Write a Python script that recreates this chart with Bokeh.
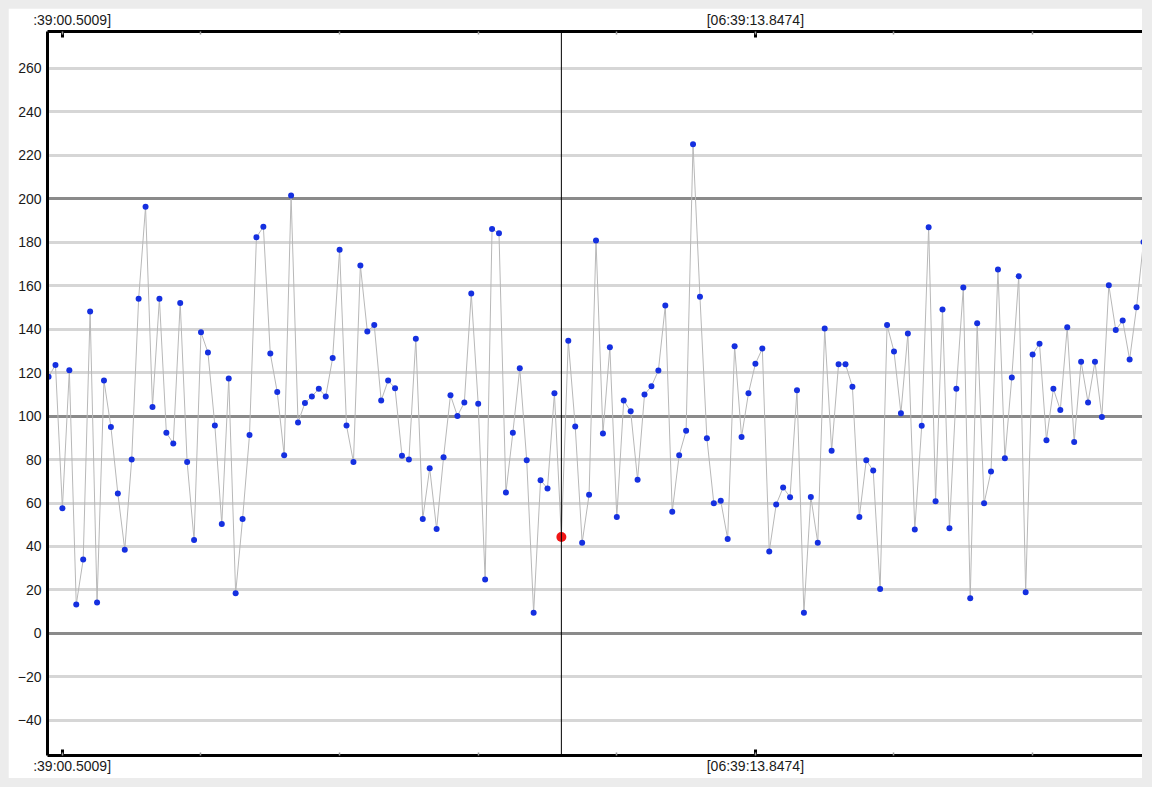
from bokeh.plotting import figure
from bokeh.models import Range1d, FixedTicker, Grid, LinearAxis, Span, ColumnDataSource
from bokeh.embed import file_html
from bokeh.resources import INLINE

# ---- data -------------------------------------------------------------
values = [
    118, 123.5, 57.6, 121, 13.3, 34, 148, 14.3, 116.3, 95,
    64.4, 38.5, 80, 153.9, 196.2, 104.2, 153.9, 92.3, 87.4, 152,
    78.8, 43, 138.5, 129.2, 95.6, 50.3, 117.2, 18.5, 52.7, 91.3,
    182.2, 187, 128.7, 111, 82, 201.4, 97, 106, 109, 112.5,
    109, 126.7, 176.4, 95.6, 78.8, 169.2, 138.9, 141.8, 107.1, 116.3,
    112.8, 81.7, 80, 135.5, 52.7, 76, 48, 81, 109.6, 100,
    106.2, 156.3, 105.6, 24.8, 186, 184, 64.8, 92.3, 122, 79.7,
    9.5, 70.5, 66.7, 110.5, 44.4, 134.6, 95.2, 41.7, 63.8, 180.7,
    92, 131.6, 53.6, 107.1, 102.2, 70.7, 109.9, 113.7, 120.9, 150.8,
    56, 82, 93.2, 225, 154.8, 89.8, 59.9, 61, 43.5, 132.1,
    90.3, 110.5, 124, 131, 37.7, 59.3, 67.1, 62.7, 111.9, 9.5,
    62.8, 41.7, 140.2, 84, 123.8, 123.8, 113.4, 53.6, 79.7, 74.9,
    20.5, 141.8, 129.7, 101.3, 137.9, 47.8, 95.5, 186.8, 60.8, 149,
    48.4, 112.5, 159.1, 16.2, 142.7, 59.9, 74.5, 167.4, 80.6, 117.7,
    164.3, 19, 128.3, 133.2, 88.9, 112.5, 102.8, 140.8, 88, 125,
    106.2, 125, 99.5, 160.1, 139.5, 143.9, 126, 150, 180,
]
sample_interval_s = 0.133465          # seconds between samples
first_sample_s = 0.23397              # seconds after 06:39:00
sample_times = [first_sample_s + i * sample_interval_s for i in range(len(values))]
selected_index = 74                   # cursor / highlighted sample

major_tick_times = [0.5009, 13.8474]
# the first label is cut off at the left edge in the reference; leading
# no-break spaces keep the visible part where it appears there
major_tick_labels = {0.5009: "\u00a0\u00a0\u00a0\u00a0\u00a0:39:00.5009]",
                     13.8474: "[06:39:13.8474]"}
minor_tick_times = [0.5009 + k * 2.6693 for k in range(8)]

y_ticks = list(range(-40, 261, 20))
heavy_y_lines = [0, 100, 200]

# ---- layout -------------------------------------------------------------
W, H = 1134, 770
border_left, border_top, border_bottom = 39, 23, 23
px_per_sample = 6.93
frame_w = W - border_left
x_start = first_sample_s - 0.15 * sample_interval_s
x_end = x_start + frame_w / px_per_sample * sample_interval_s

FONT = "Liberation Sans"
TXT = "#1a1a1a"

p = figure(width=W, height=H, output_backend="svg", toolbar_location=None,
           x_range=Range1d(x_start, x_end), y_range=Range1d(-56.1, 276.8),
           x_axis_location=None, y_axis_location="left",
           min_border_left=border_left, min_border_right=0,
           min_border_top=border_top, min_border_bottom=border_bottom,
           border_fill_color="white", background_fill_color="white",
           outline_line_color=None)

# y axis
yax = p.yaxis[0]
yax.ticker = FixedTicker(ticks=y_ticks)
yax.axis_line_width = 3
yax.axis_line_color = "black"
yax.major_tick_in = 0
yax.major_tick_out = 0
yax.minor_tick_line_color = None
yax.major_label_standoff = 6
yax.major_label_text_font = FONT
yax.major_label_text_font_size = "14px"
yax.major_label_text_color = TXT

# grids
p.xgrid.visible = False
p.ygrid.ticker = FixedTicker(ticks=y_ticks)
p.ygrid.grid_line_color = "#d6d6d6"
p.ygrid.grid_line_width = 3
p.add_layout(Grid(dimension=1, ticker=FixedTicker(ticks=heavy_y_lines),
                  grid_line_color="#8a8a8a", grid_line_width=3))

# time axes (top and bottom)
for loc, standoff in (("above", 4), ("below", 2)):
    ax = LinearAxis(ticker=FixedTicker(ticks=major_tick_times, minor_ticks=minor_tick_times),
                    major_label_overrides=major_tick_labels)
    ax.axis_line_width = 3
    ax.axis_line_color = "black"
    ax.major_tick_in = 6
    ax.major_tick_out = 0
    ax.major_tick_line_width = 3
    ax.major_tick_line_color = "black"
    ax.minor_tick_in = 3
    ax.minor_tick_out = 0
    ax.minor_tick_line_color = "#9a9a9a"
    ax.minor_tick_line_width = 1.5
    ax.major_label_standoff = standoff
    ax.major_label_text_font = FONT
    ax.major_label_text_font_size = "14px"
    ax.major_label_text_color = TXT
    p.add_layout(ax, loc)

# data
src = ColumnDataSource(dict(t=sample_times, v=values))
p.line("t", "v", source=src, line_color="#b8b8b8", line_width=1)
p.scatter("t", "v", source=src, size=6, fill_color="#1530e0", line_color=None)

# cursor
p.add_layout(Span(location=sample_times[selected_index], dimension="height",
                  line_color="black", line_width=1))
p.scatter([sample_times[selected_index]], [values[selected_index]], size=10,
          fill_color="#f01515", line_color=None)

html = file_html(p, INLINE).replace(
    "<body>", '<body style="background:#ececec;padding:8px">')
open("out.html", "w").write(html)
